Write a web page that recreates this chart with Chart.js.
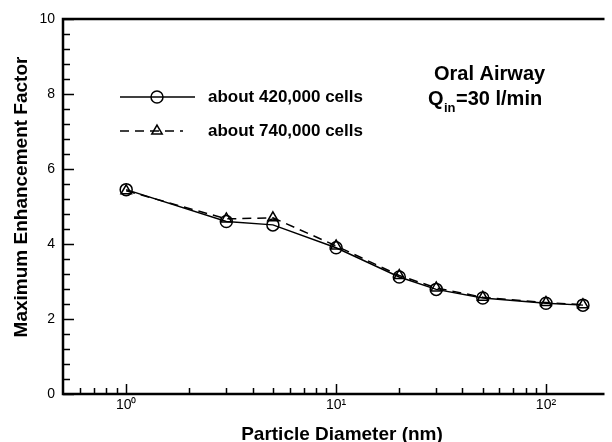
<!DOCTYPE html>
<html>
<head>
<meta charset="utf-8">
<script src="https://cdn.jsdelivr.net/npm/chart.js@4.4.0/dist/chart.umd.min.js"></script>
<style>
  html, body { margin: 0; padding: 0; background: #fff; overflow: hidden; }
  #wrap { width: 612px; height: 442px; }
</style>
</head>
<body>
<div id="wrap"><canvas id="chart" width="612" height="442"></canvas></div>
<script>
// data
const diameters = [1, 3, 5, 10, 20, 30, 50, 100, 150];
const coarseMesh = [5.45, 4.60, 4.51, 3.90, 3.12, 2.79, 2.56, 2.42, 2.37];
const fineMesh = [5.42, 4.67, 4.70, 3.95, 3.16, 2.83, 2.58, 2.44, 2.38];
const seriesNames = ['about 420,000 cells', 'about 740,000 cells'];

// axes
const xTickValues = [1, 10, 100];
const xTickLabels = ['10\u2070', '10\u00b9', '10\u00b2'];
const xMinorValues = [0.6, 0.7, 0.8, 0.9, 2, 3, 4, 5, 6, 7, 8, 9, 20, 30, 40, 50, 60, 70, 80, 90];
const yTickValues = [0, 2, 4, 6, 8, 10];
const yMinorValues = [0.4, 0.8, 1.2, 1.6, 2.4, 2.8, 3.2, 3.6, 4.4, 4.8, 5.2, 5.6, 6.4, 6.8, 7.2, 7.6, 8.4, 8.8, 9.2, 9.6];

const FONT = "'Liberation Sans', Arial, Helvetica, sans-serif";
Chart.defaults.font.family = FONT;
Chart.defaults.color = '#000';

// frame, inward ticks, titles, legend and note
const decorations = {
    id: 'decorations',
    afterDraw(chart) {
        const ctx = chart.ctx;
        const area = chart.chartArea;
        const xs = chart.scales.x, ys = chart.scales.y;
        ctx.save();
        ctx.strokeStyle = '#000';
        ctx.lineWidth = 1.5;
        ctx.beginPath();
        yTickValues.forEach(v => {
            const py = Math.round(ys.getPixelForValue(v)) + 0.5;
            ctx.moveTo(area.left, py); ctx.lineTo(area.left + 11, py);
        });
        yMinorValues.forEach(v => {
            const py = Math.round(ys.getPixelForValue(v)) + 0.5;
            ctx.moveTo(area.left, py); ctx.lineTo(area.left + 7, py);
        });
        xTickValues.forEach(v => {
            const px = Math.round(xs.getPixelForValue(v)) + 0.5;
            ctx.moveTo(px, area.bottom); ctx.lineTo(px, area.bottom - 10);
        });
        xMinorValues.forEach(v => {
            const px = Math.round(xs.getPixelForValue(v)) + 0.5;
            ctx.moveTo(px, area.bottom); ctx.lineTo(px, area.bottom - 6);
        });
        ctx.stroke();

        // frame (right side is cut off in the figure)
        ctx.lineWidth = 2.5;
        ctx.beginPath();
        ctx.moveTo(area.right, area.top);
        ctx.lineTo(area.left, area.top);
        ctx.lineTo(area.left, area.bottom);
        ctx.lineTo(area.right, area.bottom);
        ctx.stroke();

        // axis titles
        ctx.fillStyle = '#000';
        ctx.font = 'bold 19px ' + FONT;
        ctx.textAlign = 'center';
        ctx.textBaseline = 'alphabetic';
        ctx.fillText('Particle Diameter (nm)', 342, 440);
        ctx.save();
        ctx.translate(27, 197);
        ctx.rotate(-Math.PI / 2);
        ctx.fillText('Maximum Enhancement Factor', 0, 0);
        ctx.restore();

        // note
        ctx.textAlign = 'left';
        ctx.font = 'bold 20px ' + FONT;
        ctx.fillText('Oral Airway', 434, 80);
        ctx.fillText('Q', 428, 105);
        ctx.font = 'bold 13px ' + FONT;
        ctx.fillText('in', 444, 112);
        ctx.font = 'bold 20px ' + FONT;
        ctx.fillText('=30 l/min', 456, 105);

        // legend
        const rows = [{ y: 97, x2: 195 }, { y: 131, x2: 183 }];
        chart.data.datasets.forEach((ds, i) => {
            const r = rows[i];
            ctx.lineWidth = ds.borderWidth;
            ctx.setLineDash(ds.borderDash || []);
            ctx.beginPath();
            ctx.moveTo(120, r.y); ctx.lineTo(r.x2, r.y);
            ctx.stroke();
            ctx.setLineDash([]);
            ctx.lineWidth = ds.pointBorderWidth;
            ctx.fillStyle = 'rgba(0,0,0,0)';
            Chart.helpers.drawPoint(ctx, { pointStyle: ds.pointStyle, radius: ds.pointRadius, rotation: 0, borderWidth: ds.pointBorderWidth }, 157, r.y);
            ctx.fillStyle = '#000';
            ctx.font = 'bold 17px ' + FONT;
            ctx.textBaseline = 'middle';
            ctx.fillText(ds.label, 208, r.y);
            ctx.textBaseline = 'alphabetic';
        });
        ctx.restore();
    }
};

new Chart(document.getElementById('chart'), {
    type: 'line',
    data: {
        datasets: [{
            label: seriesNames[0],
            data: diameters.map((d, i) => ({ x: d, y: coarseMesh[i] })),
            borderColor: '#000',
            backgroundColor: 'rgba(0,0,0,0)',
            borderWidth: 1.5,
            pointStyle: 'circle',
            pointRadius: 6,
            pointBorderWidth: 1.5,
            pointBorderColor: '#000',
            pointBackgroundColor: 'rgba(0,0,0,0)',
            tension: 0
        }, {
            label: seriesNames[1],
            data: diameters.map((d, i) => ({ x: d, y: fineMesh[i] })),
            borderColor: '#000',
            backgroundColor: 'rgba(0,0,0,0)',
            borderWidth: 1.5,
            borderDash: [9, 6],
            pointStyle: 'triangle',
            pointRadius: 6,
            pointBorderWidth: 1.5,
            pointBorderColor: '#000',
            pointBackgroundColor: 'rgba(0,0,0,0)',
            tension: 0
        }]
    },
    options: {
        responsive: false,
        animation: false,
        devicePixelRatio: 1,
        layout: { padding: { top: 19, left: 0, right: 0, bottom: 0 } },
        plugins: { legend: { display: false }, tooltip: { enabled: false } },
        scales: {
            x: {
                type: 'logarithmic',
                min: 0.5,
                max: 190,
                grid: { display: false, drawTicks: false },
                border: { display: false },
                afterBuildTicks: scale => { scale.ticks = xTickValues.map(v => ({ value: v })); },
                afterFit: scale => { scale.height = 48; },
                ticks: {
                    autoSkip: false,
                    maxRotation: 0,
                    padding: 3,
                    font: { size: 14 },
                    color: '#000',
                    callback: (v, i) => xTickLabels[i]
                }
            },
            y: {
                min: 0,
                max: 10,
                grid: { display: false, drawTicks: false },
                border: { display: false },
                afterBuildTicks: scale => { scale.ticks = yTickValues.map(v => ({ value: v })); },
                afterFit: scale => { scale.width = 63; },
                ticks: { padding: 8, font: { size: 14 }, color: '#000' }
            }
        }
    },
    plugins: [decorations]
});
</script>
</body>
</html>
